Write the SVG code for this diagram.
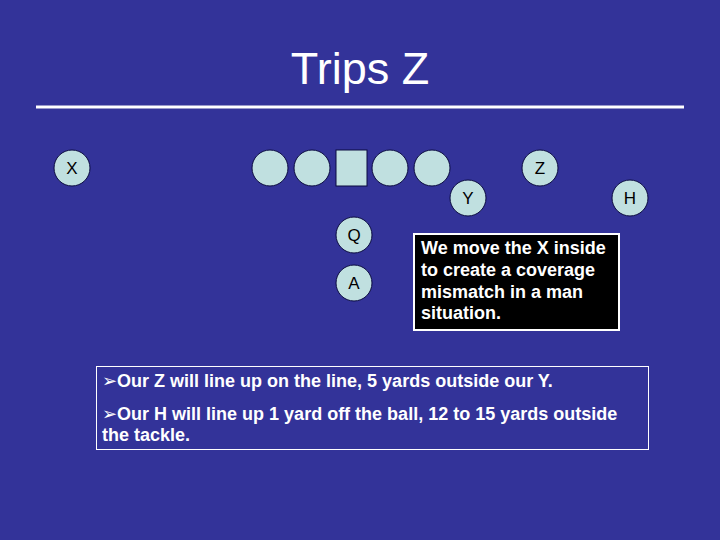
<svg xmlns="http://www.w3.org/2000/svg" width="720" height="540" viewBox="0 0 720 540">
<style>
.p{fill:#C0E0E0;stroke:#0A0A40;stroke-width:1}
.l{font-family:"Liberation Sans",Arial,sans-serif;font-size:17px;fill:#000;text-anchor:middle}
.w{font-family:"Liberation Sans",Arial,sans-serif;font-size:18px;font-weight:bold;fill:#fff}
.b{font-family:"DejaVu Sans",sans-serif;font-weight:normal;font-size:18px}
</style>
<rect width="720" height="540" fill="#333399"/>
<text x="360" y="84" font-family="'Liberation Sans',Arial,sans-serif" font-size="45" fill="#fff" text-anchor="middle">Trips Z</text>
<line x1="36" y1="107" x2="684" y2="107" stroke="#fff" stroke-width="3"/>
<g id="X"><circle class="p" cx="72" cy="168" r="18"/><text class="l" x="72" y="174">X</text></g>
<g id="OL1"><circle class="p" cx="270" cy="168" r="18"/></g>
<g id="OL2"><circle class="p" cx="312" cy="168" r="18"/></g>
<g id="C"><rect class="p" x="336" y="150" width="31" height="36"/></g>
<g id="OL4"><circle class="p" cx="390" cy="168" r="18"/></g>
<g id="OL5"><circle class="p" cx="432" cy="168" r="18"/></g>
<g id="Z"><circle class="p" cx="540" cy="168" r="18"/><text class="l" x="540" y="174">Z</text></g>
<g id="Y"><circle class="p" cx="468" cy="198" r="18"/><text class="l" x="468" y="204">Y</text></g>
<g id="H"><circle class="p" cx="630" cy="198" r="18"/><text class="l" x="630" y="204">H</text></g>
<g id="Q"><circle class="p" cx="354" cy="235" r="18"/><text class="l" x="354" y="241">Q</text></g>
<g id="A"><circle class="p" cx="354" cy="283" r="18"/><text class="l" x="354" y="289">A</text></g>
<g id="note">
<rect x="414" y="234" width="205" height="96" fill="#000" stroke="#fff" stroke-width="2"/>
<text class="w" x="421" y="254">We move the X inside</text>
<text class="w" x="421" y="276">to create a coverage</text>
<text class="w" x="421" y="298">mismatch in a man</text>
<text class="w" x="421" y="319">situation.</text>
</g>
<g id="bullets">
<rect x="96.5" y="366.5" width="552" height="83" fill="none" stroke="#fff" stroke-width="1"/>
<text class="w" x="102" y="387"><tspan class="b">➢</tspan>Our Z will line up on the line, 5 yards outside our Y.</text>
<text class="w" x="102" y="420"><tspan class="b">➢</tspan>Our H will line up 1 yard off the ball, 12 to 15 yards outside</text>
<text class="w" x="102" y="441">the tackle.</text>
</g>
</svg>
